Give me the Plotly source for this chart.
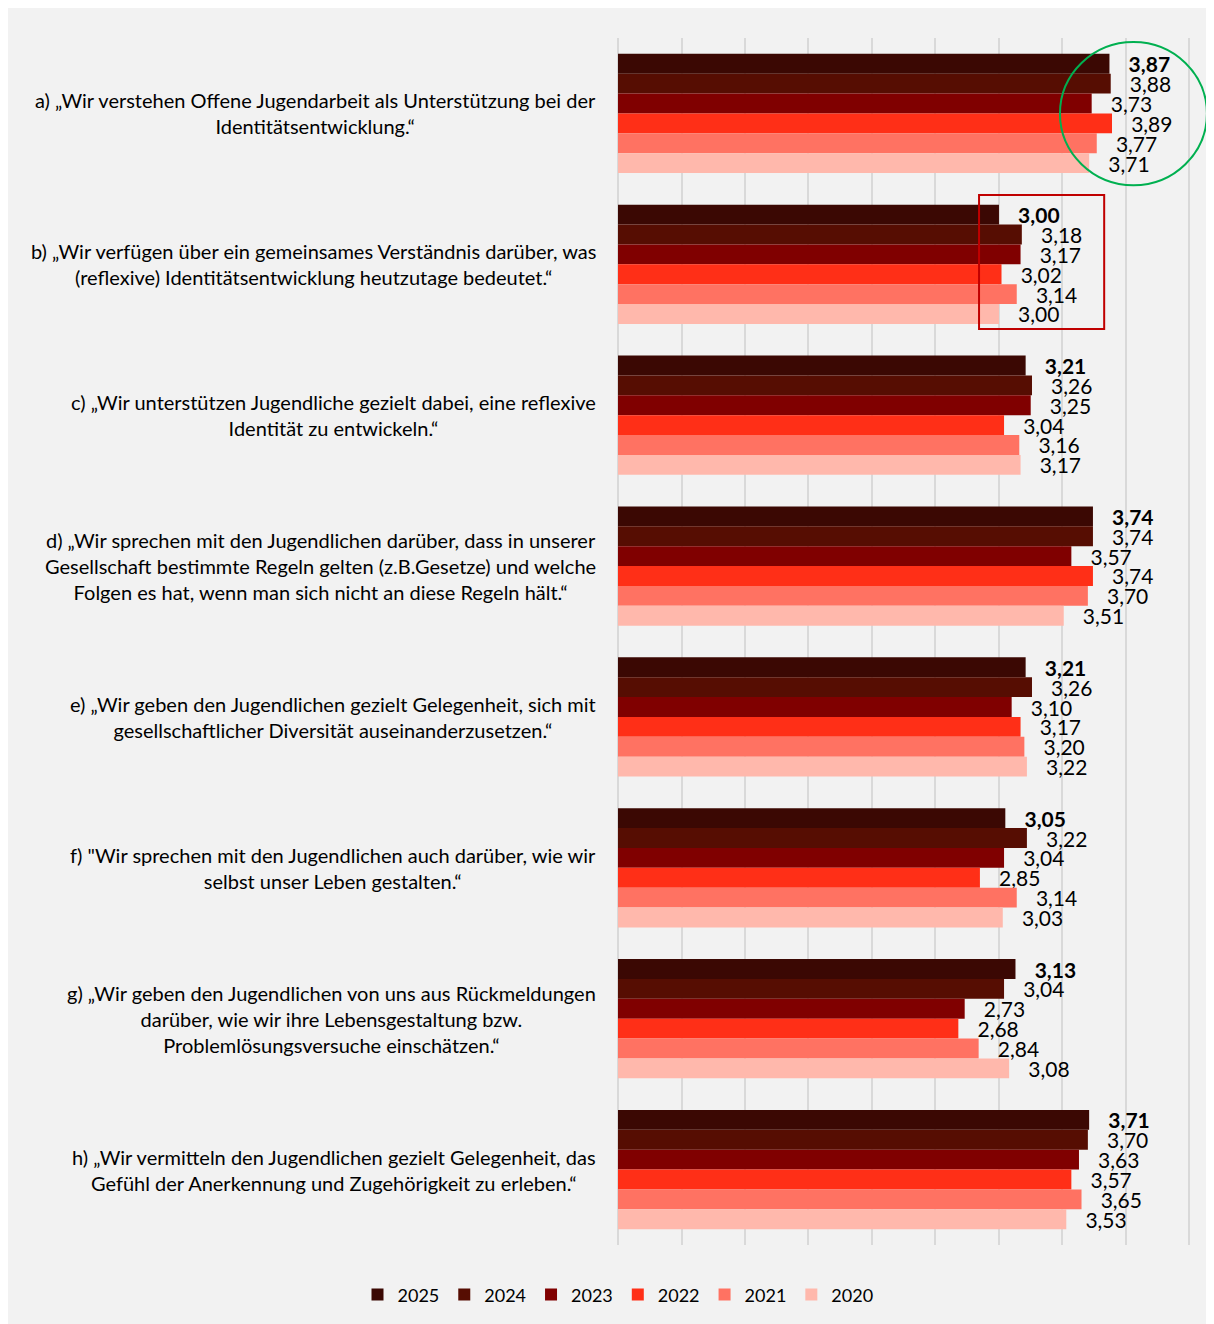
import plotly.graph_objects as go

# Items (y axis categories)
categories = [
    "a) „Wir verstehen Offene Jugendarbeit als Unterstützung bei der<br>Identitätsentwicklung.“",
    "b) „Wir verfügen über ein gemeinsames Verständnis darüber, was<br>(reflexive) Identitätsentwicklung heutzutage bedeutet.“",
    "c) „Wir unterstützen Jugendliche gezielt dabei, eine reflexive<br>Identität zu entwickeln.“",
    "d) „Wir sprechen mit den Jugendlichen darüber, dass in unserer<br>Gesellschaft bestimmte Regeln gelten (z.B.Gesetze) und welche<br>Folgen es hat, wenn man sich nicht an diese Regeln hält.“",
    "e) „Wir geben den Jugendlichen gezielt Gelegenheit, sich mit<br>gesellschaftlicher Diversität auseinanderzusetzen.“",
    "f) \"Wir sprechen mit den Jugendlichen auch darüber, wie wir<br>selbst unser Leben gestalten.“",
    "g) „Wir geben den Jugendlichen von uns aus Rückmeldungen<br>darüber, wie wir ihre Lebensgestaltung bzw.<br>Problemlösungsversuche einschätzen.“",
    "h) „Wir vermitteln den Jugendlichen gezielt Gelegenheit, das<br>Gefühl der Anerkennung und Zugehörigkeit zu erleben.“",
]
keys = ["a", "b", "c", "d", "e", "f", "g", "h"]

years = ["2025", "2024", "2023", "2022", "2021", "2020"]
colors = ["#3b0803", "#560d02", "#800000", "#ff2f17", "#ff7262", "#ffb8ac"]

v2025 = [3.87, 3.00, 3.21, 3.74, 3.21, 3.05, 3.13, 3.71]
v2024 = [3.88, 3.18, 3.26, 3.74, 3.26, 3.22, 3.04, 3.70]
v2023 = [3.73, 3.17, 3.25, 3.57, 3.10, 3.04, 2.73, 3.63]
v2022 = [3.89, 3.02, 3.04, 3.74, 3.17, 2.85, 2.68, 3.57]
v2021 = [3.77, 3.14, 3.16, 3.70, 3.20, 3.14, 2.84, 3.65]
v2020 = [3.71, 3.00, 3.17, 3.51, 3.22, 3.03, 3.08, 3.53]
series = [v2025, v2024, v2023, v2022, v2021, v2020]

grid_ticks = [0, 0.5, 1, 1.5, 2, 2.5, 3, 3.5, 4, 4.5]

FONT = "Lato"
pad = "\u00a0\u00a0\u00a0"

fig = go.Figure()

for i, (yr, col, vals) in enumerate(zip(years, colors, series)):
    labels = [f"{v:.2f}".replace(".", ",") for v in vals]
    if i == 0:
        labels = [f"<b>{t}</b>" for t in labels]
    fig.add_trace(go.Bar(
        x=vals,
        y=keys,
        orientation="h",
        name=yr,
        marker=dict(color=col, line=dict(width=0)),
        text=[pad + t for t in labels],
        textposition="outside",
        textfont=dict(family=FONT, size=21, color="#000000"),
        constraintext="none",
        cliponaxis=False,
    ))

# category labels as centered text blocks left of the plot
for k, cat in zip(keys, categories):
    fig.add_annotation(
        x=0, xref="paper", y=k, yref="y",
        xanchor="right", xshift=-20,
        text=cat, showarrow=False, align="center",
        font=dict(family=FONT, size=20, color="#000000"),
    )

# highlight marks
fig.add_shape(type="circle", xref="paper", yref="paper",
              x0=0.770, x1=1.026, y0=0.878, y1=0.9967,
              line=dict(color="#00b050", width=2))
fig.add_shape(type="rect", xref="paper", yref="paper",
              x0=0.629, x1=0.847, y0=0.759, y1=0.870,
              line=dict(color="#c00000", width=2))

fig.update_layout(
    width=1214, height=1324,
    margin=dict(l=610, r=30, t=30, b=87),
    paper_bgcolor="#f2f2f2",
    plot_bgcolor="#f2f2f2",
    barmode="group",
    bargap=0.21,
    bargroupgap=0,
    font=dict(family=FONT, size=19, color="#000000"),
    xaxis=dict(range=[0, 4.52], tickvals=grid_ticks,
               showticklabels=False,
               showgrid=True, gridcolor="#d9d9d9", gridwidth=2,
               zeroline=True, zerolinecolor="#d9d9d9", zerolinewidth=2,
               showline=False),
    yaxis=dict(type="category", autorange="reversed", showticklabels=False,
               showgrid=False, zeroline=False, showline=False),
    legend=dict(orientation="h", x=0.0, xanchor="center", y=-0.026, yanchor="top",
                font=dict(family=FONT, size=18), bgcolor="rgba(0,0,0,0)"),
)

fig.write_html("out.html", config={"displayModeBar": False})
